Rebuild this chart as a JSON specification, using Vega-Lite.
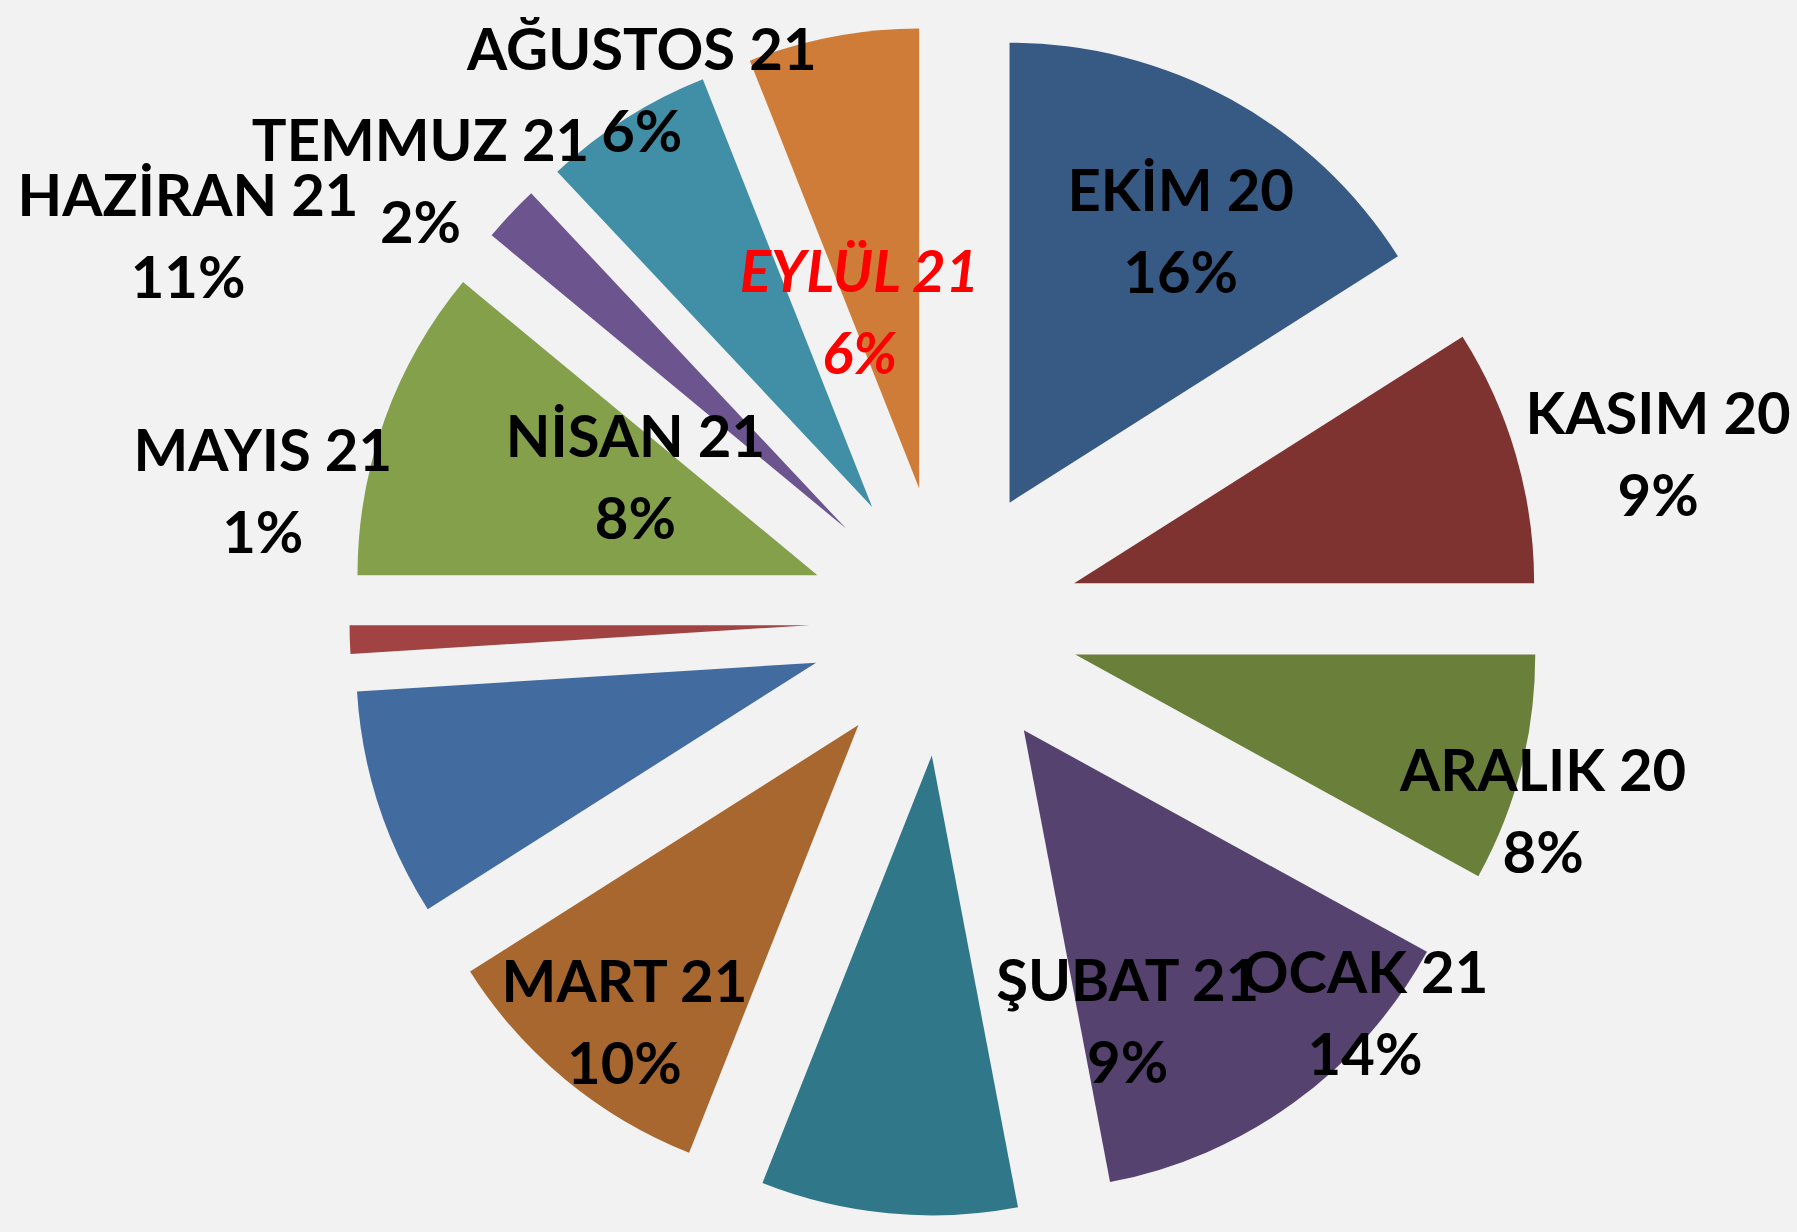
{
  "$schema": "https://vega.github.io/schema/vega-lite/v6.json",
  "width": 1797,
  "height": 1232,
  "autosize": {"type": "fit", "contains": "padding"},
  "padding": {"left": 63, "top": 10, "right": 0, "bottom": 0},
  "background": "#f2f2f2",
  "view": {"stroke": null},
  "data": {
    "values": [
      {"idx": 1, "month": "EKİM 20", "pct": 16},
      {"idx": 2, "month": "KASIM 20", "pct": 9},
      {"idx": 3, "month": "ARALIK 20", "pct": 8},
      {"idx": 4, "month": "OCAK 21", "pct": 14},
      {"idx": 5, "month": "ŞUBAT 21", "pct": 9},
      {"idx": 6, "month": "MART 21", "pct": 10},
      {"idx": 7, "month": "NİSAN 21", "pct": 8},
      {"idx": 8, "month": "MAYIS 21", "pct": 1},
      {"idx": 9, "month": "HAZİRAN 21", "pct": 11},
      {"idx": 10, "month": "TEMMUZ 21", "pct": 2},
      {"idx": 11, "month": "AĞUSTOS 21", "pct": 6},
      {"idx": 12, "month": "EYLÜL 21", "pct": 6}
    ]
  },
  "transform": [
    {"calculate": "datum.month + '\\n' + datum.pct + '%'", "as": "label"}
  ],
  "encoding": {
    "theta": {"field": "pct", "type": "quantitative", "stack": true},
    "order": {"field": "idx", "type": "quantitative"}
  },
  "layer": [
    {
      "mark": {
        "type": "arc",
        "outerRadius": 460,
        "innerRadius": 0,
        "xOffset": {"expr": "135*sin((datum.pct_start+datum.pct_end)*PI/100)"},
        "yOffset": {"expr": "-135*cos((datum.pct_start+datum.pct_end)*PI/100)"}
      },
      "encoding": {
        "color": {
          "field": "month",
          "type": "nominal",
          "legend": null,
          "scale": {
            "domain": ["EKİM 20", "KASIM 20", "ARALIK 20", "OCAK 21", "ŞUBAT 21", "MART 21", "NİSAN 21", "MAYIS 21", "HAZİRAN 21", "TEMMUZ 21", "AĞUSTOS 21", "EYLÜL 21"],
            "range": ["#375a84", "#7f3331", "#6a7f3a", "#56426f", "#31778a", "#a8672f", "#426ba0", "#a14343", "#84a04b", "#6c558f", "#418fa6", "#d07c39"]
          }
        }
      }
    },
    {
      "mark": {
        "type": "text",
        "font": "Lato",
        "fontSize": 58,
        "fontWeight": "bold",
        "lineBreak": "\n",
        "lineHeight": 82,
        "align": "center",
        "baseline": "middle",
        "dy": -37,
        "radius": {"expr": "[456,733,628,575,440,513,341,694,849,684,611,320][datum.idx-1]"},
        "thetaOffset": {"expr": "[2.4,3,3.2,-11,-30,-1,43,12.6,7.2,-3.2,2.7,-4.6][datum.idx-1]*PI/180"},
        "fontStyle": {"expr": "datum.idx == 12 ? 'italic' : 'normal'"}
      },
      "encoding": {
        "detail": {"field": "month", "type": "nominal"},
        "text": {"field": "label", "type": "nominal"},
        "color": {"condition": {"test": "datum.idx == 12", "value": "#ff0000"}, "value": "#000000"}
      }
    }
  ]
}
